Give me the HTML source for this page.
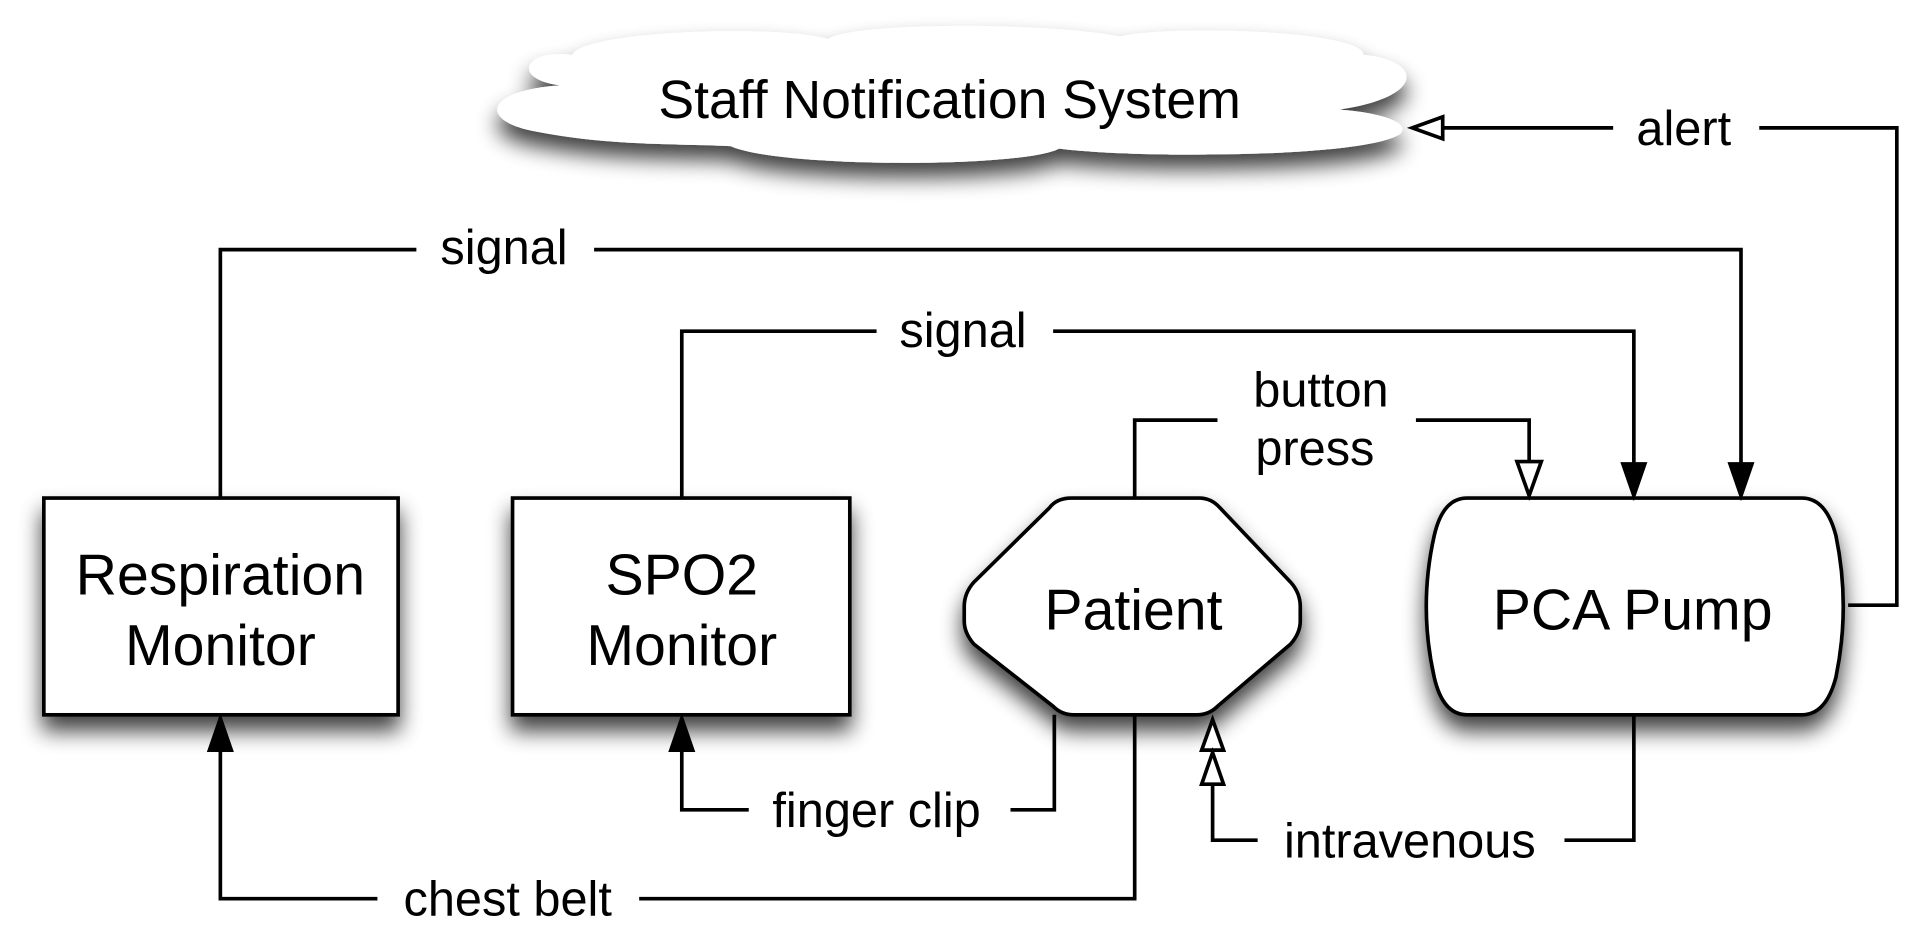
<!DOCTYPE html>
<html><head><meta charset="utf-8"><style>
html,body{margin:0;padding:0;background:#fff;}
svg{display:block;}
text{font-family:"Liberation Sans",sans-serif;fill:#000;}
</style></head><body>
<svg width="1909" height="934" viewBox="0 0 1568 767" preserveAspectRatio="none" xmlns="http://www.w3.org/2000/svg">
<defs>
<filter id="sh" x="-20%" y="-20%" width="140%" height="160%">
<feGaussianBlur in="SourceAlpha" stdDeviation="9"/>
<feOffset dx="0" dy="12" result="b"/>
<feComponentTransfer><feFuncA type="linear" slope="0.75"/></feComponentTransfer>
<feMerge><feMergeNode/><feMergeNode in="SourceGraphic"/></feMerge>
</filter>
</defs>
<g stroke="#000" stroke-width="3" fill="none">
<g filter="url(#sh)">
<path d="M470,45 C430,40 420,65 460,70 C395,75 395,100 440,108 C500,120 560,118 600,120 C640,138 840,138 870,122 C930,130 1120,130 1150,110 C1160,100 1130,92 1100,90 C1170,80 1170,50 1120,45 C1120,25 960,20 920,30 C860,18 700,18 680,32 C640,20 480,25 470,45 Z" fill="#fff" stroke="none"/>
</g>
<g filter="url(#sh)">
<rect x="36" y="409" width="291" height="178" fill="#fff"/>
<rect x="421" y="409" width="277" height="178" fill="#fff"/>
<path d="M880,409 L985,409 Q995,409 1002,417 L1060,478 Q1068,487 1068,498 L1068,510 Q1068,520 1060,529 L1000,580 Q993,587 983,587 L882,587 Q872,587 865,580 L800,529 Q792,520 792,510 L792,498 Q792,487 800,478 L862,417 Q868,409 880,409 Z" fill="#fff"/>
<path d="M1205,409 L1480,409 Q1500,409 1508,440 Q1520,498 1508,556 Q1500,587 1480,587 L1205,587 Q1185,587 1178,556 Q1165,498 1178,440 Q1185,409 1205,409 Z" fill="#fff"/>
</g>
<polyline points="1518,497 1558,497 1558,105 1445,105"/>
<line x1="1325" y1="105" x2="1180" y2="105"/>
<polyline points="181,409 181,205 342,205"/>
<polyline points="488,205 1430,205 1430,382"/>
<polyline points="560,409 560,272 720,272"/>
<polyline points="865,272 1342,272 1342,382"/>
<polyline points="932,409 932,345 1000,345"/>
<polyline points="1163,345 1256,345 1256,380"/>
<polyline points="866,587 866,665 830,665"/>
<polyline points="615,665 560,665 560,614"/>
<polyline points="932,587 932,738 525,738"/>
<polyline points="310,738 181,738 181,614"/>
<polyline points="1342,587 1342,690 1285,690"/>
<polyline points="1033,690 996,690 996,645"/>
</g>
<g stroke="#000" stroke-width="3">
<polygon points="1160,105 1185,96 1185,114" fill="#fff"/>
<polygon points="1430,407 1421,381 1439,381" fill="#000"/>
<polygon points="1342,407 1333,381 1351,381" fill="#000"/>
<polygon points="1256,407 1246,379 1266,379" fill="#fff"/>
<polygon points="560,590 551,616 569,616" fill="#000"/>
<polygon points="181,590 172,616 190,616" fill="#000"/>
<polygon points="996,591 987,616 1005,616" fill="#fff"/>
<polygon points="996,618 987,644 1005,644" fill="#fff"/>
</g>
<g font-size="47" text-anchor="middle">
<text x="780" y="97" font-size="44">Staff Notification System</text>
<text x="181" y="488">Respiration</text>
<text x="181" y="546">Monitor</text>
<text x="560" y="488">SPO2</text>
<text x="560" y="546">Monitor</text>
<text x="931" y="517">Patient</text>
<text x="1341" y="517">PCA Pump</text>
</g>
<g font-size="40" text-anchor="middle">
<text x="1383" y="119">alert</text>
<text x="414" y="217">signal</text>
<text x="791" y="285">signal</text>
<text x="1085" y="334">button</text>
<text x="1080" y="382">press</text>
<text x="720" y="679">finger clip</text>
<text x="1158" y="704">intravenous</text>
<text x="417" y="752">chest belt</text>
</g>
</svg>
</body></html>
